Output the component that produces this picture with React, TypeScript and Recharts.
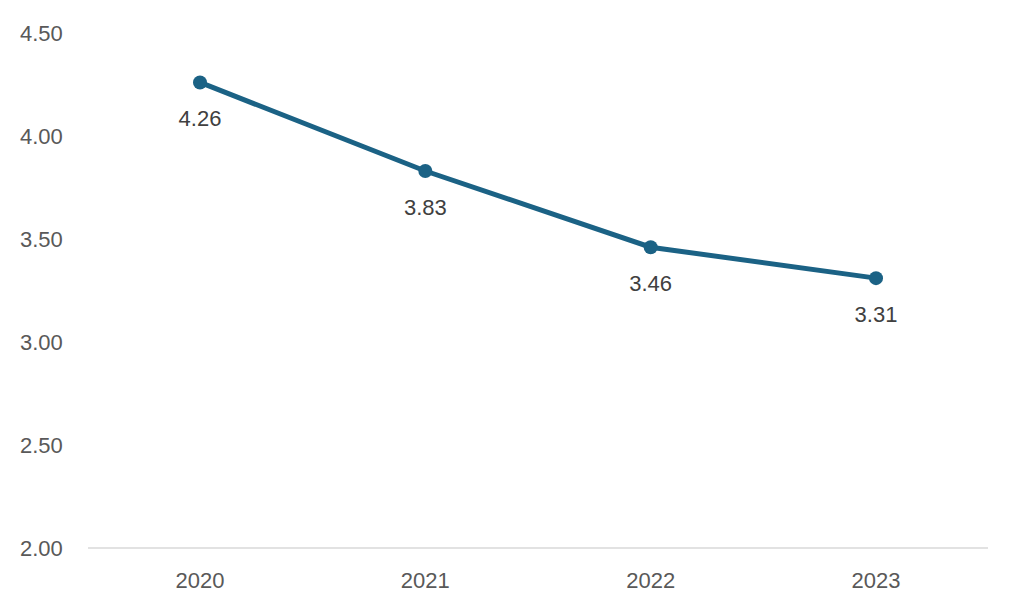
import React from 'react';
import { LineChart, Line, XAxis, YAxis, LabelList } from 'recharts';

// Values
const years = ['2020', '2021', '2022', '2023'];
const values = [4.26, 3.83, 3.46, 3.31];
const yTicks = [2.0, 2.5, 3.0, 3.5, 4.0, 4.5];

const data = years.map((year, i) => ({ year, value: values[i] }));

const LINE_COLOR = '#1b6285';
const FONT = '"Liberation Sans", Arial, sans-serif';

const YTick = (props: any) => {
  const { y, payload } = props;
  return (
    <text x={20} y={y} dy={8} textAnchor="start" fill="#595959" fontSize={22} fontFamily={FONT}>
      {payload.value.toFixed(2)}
    </text>
  );
};

const XTick = (props: any) => {
  const { x, y, payload } = props;
  return (
    <text x={x} y={y} dy={32} textAnchor="middle" fill="#595959" fontSize={22} fontFamily={FONT}>
      {payload.value}
    </text>
  );
};

const ValueLabel = (props: any) => {
  const { x, y, value } = props;
  return (
    <text x={x} y={y} dy={44} textAnchor="middle" fill="#404040" fontSize={22} fontFamily={FONT}>
      {value.toFixed(2)}
    </text>
  );
};

export default function App() {
  return (
    <div style={{ position: 'absolute', left: 0, top: 0, background: '#fff' }}>
      <LineChart
        width={1023}
        height={616}
        data={data}
        margin={{ top: 33, right: 35, bottom: 38, left: 0 }}
      >
        <XAxis
          dataKey="year"
          height={30}
          axisLine={{ stroke: '#d9d9d9', strokeWidth: 1.5 }}
          tickLine={false}
          tick={<XTick />}
          padding={{ left: 112, right: 112 }}
        />
        <YAxis
          domain={[2, 4.5]}
          ticks={yTicks}
          width={88}
          axisLine={false}
          tickLine={false}
          tick={<YTick />}
        />
        <Line
          type="linear"
          dataKey="value"
          stroke={LINE_COLOR}
          strokeWidth={5}
          dot={{ r: 7, fill: LINE_COLOR, stroke: LINE_COLOR, strokeWidth: 0 }}
          isAnimationActive={false}
        >
          <LabelList dataKey="value" content={<ValueLabel />} />
        </Line>
      </LineChart>
    </div>
  );
}
